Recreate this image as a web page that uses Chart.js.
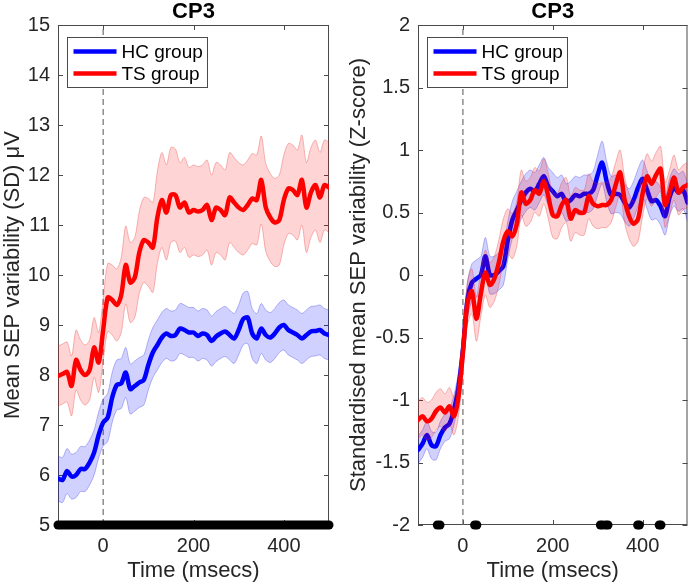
<!DOCTYPE html>
<html>
<head>
<meta charset="utf-8">
<script src="https://cdn.jsdelivr.net/npm/chart.js@4.4.1/dist/chart.umd.min.js"></script>
<style>
  html, body { margin: 0; padding: 0; background: #fff; }
  #wrap { position: relative; width: 692px; height: 586px; }
  .panel { position: absolute; top: 0; width: 346px; height: 586px; }
  #panelL { left: 0; }
  #panelR { left: 346px; }
</style>
</head>
<body>
<div id="wrap">
  <div class="panel" id="panelL"><canvas id="chartL"></canvas></div>
  <div class="panel" id="panelR"><canvas id="chartR"></canvas></div>
</div>
<script>
// Time axis (ms), one sample every 10 ms
const timesMs = [
  -100, -90, -80, -70, -60, -50, -40, -30, -20, -10,
  0, 10, 20, 30, 40, 50, 60, 70, 80, 90,
  100, 110, 120, 130, 140, 150, 160, 170, 180, 190,
  200, 210, 220, 230, 240, 250, 260, 270, 280, 290,
  300, 310, 320, 330, 340, 350, 360, 370, 380, 390,
  400, 410, 420, 430, 440, 450, 460, 470, 480, 490,
  500
];

// Left panel: mean SEP variability (SD, µV)
const hcMeanL = [
  5.93, 5.9, 6.08, 5.97, 6.0, 6.12, 6.12, 6.25, 6.45, 6.8,
  7.05, 7.15, 7.55, 7.8, 7.83, 8.05, 7.72, 7.78, 7.85, 7.9,
  8.2, 8.45, 8.6, 8.75, 8.83, 8.78, 8.8, 8.93, 8.9, 8.85,
  8.85, 8.78, 8.83, 8.8, 8.68, 8.77, 8.83, 8.87, 8.8, 8.73,
  8.9, 9.12, 9.15, 8.83, 8.73, 8.93, 8.8, 8.75, 8.83, 8.95,
  9.0, 8.9, 8.85, 8.8, 8.73, 8.8, 8.87, 8.88, 8.9, 8.83,
  8.8
];
const hcErrL = [
  0.45, 0.45, 0.45, 0.45, 0.45, 0.45, 0.45, 0.45, 0.45, 0.46,
  0.47, 0.48, 0.5, 0.5, 0.5, 0.5, 0.5, 0.5, 0.5, 0.5,
  0.5, 0.5, 0.5, 0.5, 0.5, 0.5, 0.5, 0.5, 0.5, 0.5,
  0.5, 0.5, 0.5, 0.5, 0.5, 0.5, 0.5, 0.5, 0.5, 0.5,
  0.5, 0.52, 0.52, 0.5, 0.5, 0.5, 0.5, 0.5, 0.5, 0.5,
  0.5, 0.5, 0.5, 0.5, 0.5, 0.5, 0.5, 0.5, 0.5, 0.5,
  0.5
];
const tsMeanL = [
  7.98, 8.02, 8.06, 7.78, 8.3, 8.1, 8.0, 8.1, 8.55, 8.25,
  8.9, 9.55, 9.5, 9.4, 9.6, 10.2, 9.85, 9.95, 10.45, 10.7,
  10.65, 10.55, 11.15, 11.5, 11.25, 11.6, 11.6, 11.35, 11.45, 11.25,
  11.3, 11.27, 11.3, 11.4, 11.1, 11.35, 11.3, 11.2, 11.55, 11.45,
  11.35, 11.3, 11.4, 11.53, 11.5, 11.9, 11.35, 11.15, 11.05, 11.1,
  11.5, 11.73, 11.7, 11.6, 11.9, 11.35, 11.65, 11.8, 11.55, 11.8,
  11.75
];
const tsErrL = [
  0.6, 0.6, 0.6, 0.6, 0.6, 0.6, 0.6, 0.6, 0.6, 0.6,
  0.62, 0.68, 0.7, 0.72, 0.75, 0.78, 0.8, 0.8, 0.82, 0.85,
  0.88, 0.9, 0.92, 0.95, 0.95, 0.95, 0.92, 0.9, 0.9, 0.9,
  0.9, 0.9, 0.9, 0.9, 0.9, 0.9, 0.9, 0.9, 0.9, 0.9,
  0.9, 0.9, 0.9, 0.9, 0.9, 0.88, 0.88, 0.88, 0.88, 0.9,
  0.9, 0.9, 0.9, 0.9, 0.9, 0.9, 0.9, 0.9, 0.9, 0.9,
  0.9
];

// Right panel: standardised values (Z-score)
const hcMeanR = [
  -1.4, -1.35, -1.28, -1.36, -1.37, -1.28, -1.22, -1.19, -1.08, -0.9,
  -0.6, -0.2, -0.06, -0.03, 0.0, 0.15, 0.0, 0.0, 0.03, 0.07,
  0.28, 0.44, 0.52, 0.6, 0.66, 0.69, 0.67, 0.73, 0.79, 0.71,
  0.67, 0.63, 0.65, 0.58, 0.6, 0.64, 0.63, 0.65, 0.65, 0.68,
  0.8, 0.9, 0.75, 0.64, 0.65, 0.64, 0.58, 0.54, 0.6, 0.7,
  0.77, 0.68, 0.59, 0.6, 0.55, 0.47, 0.62, 0.7, 0.66, 0.68,
  0.58
];
const hcErrR = [
  0.11, 0.11, 0.11, 0.11, 0.11, 0.11, 0.11, 0.12, 0.12, 0.12,
  0.13, 0.14, 0.15, 0.15, 0.15, 0.15, 0.15, 0.15, 0.15, 0.15,
  0.15, 0.15, 0.15, 0.15, 0.15, 0.15, 0.15, 0.15, 0.15, 0.15,
  0.15, 0.15, 0.15, 0.15, 0.15, 0.15, 0.15, 0.15, 0.15, 0.15,
  0.16, 0.17, 0.16, 0.15, 0.15, 0.15, 0.15, 0.15, 0.15, 0.15,
  0.15, 0.15, 0.15, 0.15, 0.15, 0.15, 0.15, 0.15, 0.15, 0.15,
  0.15
];
const tsMeanR = [
  -1.16, -1.13, -1.17, -1.15, -1.09, -1.06, -1.1, -1.05, -1.13, -0.98,
  -0.62, -0.23, -0.13, -0.35, -0.15, 0.02, -0.08, -0.03, 0.1, 0.27,
  0.35, 0.31, 0.41, 0.66, 0.57, 0.6, 0.68, 0.65, 0.75, 0.63,
  0.48, 0.47, 0.56, 0.6, 0.45, 0.52, 0.5, 0.5, 0.63, 0.57,
  0.55, 0.56, 0.56, 0.6, 0.72, 0.82, 0.6, 0.47, 0.41, 0.45,
  0.65, 0.79, 0.73, 0.8, 0.85, 0.56, 0.66, 0.78, 0.66, 0.7,
  0.72
];
const tsErrR = [
  0.15, 0.15, 0.15, 0.15, 0.15, 0.15, 0.15, 0.15, 0.15, 0.15,
  0.16, 0.17, 0.18, 0.18, 0.18, 0.18, 0.18, 0.18, 0.18, 0.18,
  0.18, 0.18, 0.18, 0.18, 0.18, 0.18, 0.18, 0.18, 0.18, 0.18,
  0.18, 0.18, 0.18, 0.18, 0.18, 0.18, 0.18, 0.18, 0.18, 0.18,
  0.18, 0.18, 0.18, 0.18, 0.18, 0.18, 0.18, 0.18, 0.18, 0.18,
  0.18, 0.18, 0.18, 0.18, 0.18, 0.18, 0.18, 0.18, 0.18, 0.18,
  0.18
];

// Significant time points (black markers on the bottom axis)
const sigSpanL = [-100, 500];
const sigTimesR = [-57, -51, 26, 31, 306, 311, 318, 323, 389, 393, 437, 441];

// Ticks
const xTickVals = [0, 200, 400];
const yTickValsL = [5, 6, 7, 8, 9, 10, 11, 12, 13, 14, 15];
const yTickValsR = [-2, -1.5, -1, -0.5, 0, 0.5, 1, 1.5, 2];

const stimTime = 0;
const groupNames = ['HC group', 'TS group'];

const FONT = '"Liberation Sans", Arial, Helvetica, sans-serif';
const TEXT_COLOR = '#262626';
const AXIS_COLOR = '#4a4a4a';
const TICK_LEN = 5;
const HC_COLOR = '#0000ff';
const TS_COLOR = '#ff0000';

function pts(mean, err, sign) {
    return timesMs.map((t, i) => ({ x: t, y: mean[i] + sign * err[i] }));
}

// Box, inward ticks, legend and panel title (MATLAB look)
function panelDecor(titleText) {
    return {
        id: 'panelDecor',
        beforeDatasetsDraw(chart) {
            const { ctx, chartArea: a, scales } = chart;
            ctx.save();
            ctx.strokeStyle = AXIS_COLOR;
            ctx.lineWidth = 1;
            ctx.strokeRect(a.left + 0.5, a.top + 0.5, a.width - 1, a.height - 1);
            ctx.beginPath();
            scales.y.ticks.forEach(t => {
                const py = Math.round(scales.y.getPixelForValue(t.value)) + 0.5;
                ctx.moveTo(a.left, py); ctx.lineTo(a.left + TICK_LEN, py);
                ctx.moveTo(a.right, py); ctx.lineTo(a.right - TICK_LEN, py);
            });
            scales.x.ticks.forEach(t => {
                const px = Math.round(scales.x.getPixelForValue(t.value)) + 0.5;
                ctx.moveTo(px, a.bottom); ctx.lineTo(px, a.bottom - TICK_LEN);
                ctx.moveTo(px, a.top); ctx.lineTo(px, a.top + TICK_LEN);
            });
            ctx.stroke();
            ctx.restore();
        },
        afterDatasetsDraw(chart) {
            const { ctx, chartArea: a } = chart;
            const lx = Math.round(a.left) + 9.5, ly = Math.round(a.top) + 12.5;
            const w = 140, h = 50;
            ctx.save();
            ctx.fillStyle = '#fff';
            ctx.fillRect(lx, ly, w, h);
            ctx.strokeStyle = AXIS_COLOR;
            ctx.lineWidth = 1;
            ctx.strokeRect(lx, ly, w, h);
            const cols = [HC_COLOR, TS_COLOR];
            groupNames.forEach((name, k) => {
                const cy = ly + 14 + k * 22;
                ctx.strokeStyle = cols[k];
                ctx.lineWidth = 4.5;
                ctx.beginPath();
                ctx.moveTo(lx + 6, cy);
                ctx.lineTo(lx + 49, cy);
                ctx.stroke();
                ctx.fillStyle = '#000';
                ctx.font = '19px ' + FONT;
                ctx.textAlign = 'left';
                ctx.textBaseline = 'middle';
                ctx.fillText(name, lx + 54, cy + 1);
            });
            ctx.restore();
        },
        afterDraw(chart) {
            const { ctx, chartArea: a } = chart;
            ctx.save();
            ctx.fillStyle = '#000';
            ctx.font = 'bold 22px ' + FONT;
            ctx.textAlign = 'center';
            ctx.textBaseline = 'alphabetic';
            ctx.fillText(titleText, (a.left + a.right) / 2, a.top - 7);
            ctx.restore();
        }
    };
}

function makePanel(canvasId, p) {
    const ctx = document.getElementById(canvasId).getContext('2d');
    const datasets = [
        // significance markers (on top)
        p.sigDataset,
        { label: 'TS mean', data: pts(p.tsMean, p.tsMean.map(() => 0), 1), borderColor: TS_COLOR,
          borderWidth: 4.5, borderJoinStyle: 'round', borderCapStyle: 'round', pointRadius: 0, order: 0 },
        { label: 'TS upper', data: pts(p.tsMean, p.tsErr, 1), borderColor: 'rgba(230,60,60,0.35)',
          borderWidth: 1, pointRadius: 0, fill: '+1', backgroundColor: 'rgba(255,0,0,0.17)', order: 1 },
        { label: 'TS lower', data: pts(p.tsMean, p.tsErr, -1), borderColor: 'rgba(230,60,60,0.35)',
          borderWidth: 1, pointRadius: 0, fill: false, order: 1 },
        { label: 'HC mean', data: pts(p.hcMean, p.hcMean.map(() => 0), 1), borderColor: HC_COLOR,
          borderWidth: 4.5, borderJoinStyle: 'round', borderCapStyle: 'round', pointRadius: 0, order: 2 },
        { label: 'HC upper', data: pts(p.hcMean, p.hcErr, 1), borderColor: 'rgba(60,60,230,0.35)',
          borderWidth: 1, pointRadius: 0, fill: '+1', backgroundColor: 'rgba(0,0,255,0.18)', order: 3 },
        { label: 'HC lower', data: pts(p.hcMean, p.hcErr, -1), borderColor: 'rgba(60,60,230,0.35)',
          borderWidth: 1, pointRadius: 0, fill: false, order: 3 },
        // stimulus onset
        { label: 'onset', data: [{ x: stimTime, y: p.yMin }, { x: stimTime, y: p.yMax }],
          borderColor: '#707070', borderWidth: 1.2, borderDash: [6, 4], pointRadius: 0, tension: 0, order: 4 }
    ];

    return new Chart(ctx, {
        type: 'line',
        data: { datasets },
        options: {
            responsive: true,
            maintainAspectRatio: false,
            animation: false,
            devicePixelRatio: 1,
            layout: { padding: { top: 25, right: p.rightPad, left: 0, bottom: 0 } },
            elements: { line: { tension: 0.3 } },
            plugins: {
                legend: { display: false },
                tooltip: { enabled: false },
                title: { display: false }
            },
            scales: {
                x: {
                    type: 'linear',
                    min: -100,
                    max: 500,
                    afterBuildTicks: s => { s.ticks = xTickVals.map(v => ({ value: v })); },
                    afterFit: s => { s.height = 61; },
                    grid: { display: false, drawTicks: false },
                    border: { display: false },
                    ticks: { color: TEXT_COLOR, font: { family: FONT, size: 20 }, padding: 9, maxRotation: 0 },
                    title: { display: true, text: 'Time (msecs)', color: TEXT_COLOR,
                             font: { family: FONT, size: 22 }, padding: { top: 0, bottom: 2 } }
                },
                y: {
                    type: 'linear',
                    min: p.yMin,
                    max: p.yMax,
                    afterBuildTicks: s => { s.ticks = p.yTicks.map(v => ({ value: v })); },
                    afterFit: s => { s.width = p.yAxisW; },
                    grid: { display: false, drawTicks: false },
                    border: { display: false },
                    ticks: { color: TEXT_COLOR, font: { family: FONT, size: 20 }, padding: 8,
                             callback: v => String(v) },
                    title: { display: true, text: p.yTitle, color: TEXT_COLOR,
                             font: { family: FONT, size: 22 }, padding: { top: 0, bottom: 0 } }
                }
            }
        },
        plugins: [panelDecor('CP3')]
    });
}

makePanel('chartL', {
    hcMean: hcMeanL, hcErr: hcErrL, tsMean: tsMeanL, tsErr: tsErrL,
    yMin: 5, yMax: 15, yTicks: yTickValsL,
    yTitle: 'Mean SEP variability (SD) μV',
    yAxisW: 58, rightPad: 17,
    sigDataset: { label: 'sig', data: sigSpanL.map(t => ({ x: t, y: 5 })), borderColor: '#000',
                  borderWidth: 9, borderCapStyle: 'round', pointRadius: 0, tension: 0, clip: false, order: -1 }
});

makePanel('chartR', {
    hcMean: hcMeanR, hcErr: hcErrR, tsMean: tsMeanR, tsErr: tsErrR,
    yMin: -2, yMax: 2, yTicks: yTickValsR,
    yTitle: 'Standardised mean SEP variability (Z-score)',
    yAxisW: 72, rightPad: 3,
    sigDataset: { label: 'sig', data: sigTimesR.map(t => ({ x: t, y: -2 })), showLine: false,
                  pointRadius: 4.5, pointBackgroundColor: '#000', pointBorderColor: '#000',
                  pointBorderWidth: 0, clip: false, order: -1 }
});
</script>
</body>
</html>
